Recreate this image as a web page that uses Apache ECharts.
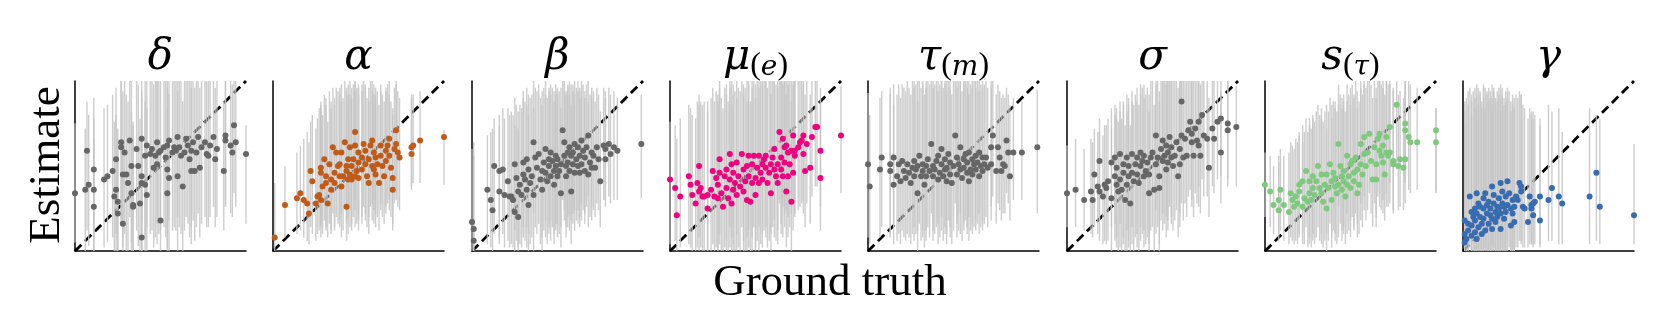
<!DOCTYPE html>
<html>
<head>
<meta charset="utf-8">
<script src="https://cdn.jsdelivr.net/npm/echarts@6/dist/echarts.min.js"></script>
<style>
    html, body { margin: 0; padding: 0; background: #fff; }
    #main { width: 1661px; height: 332px; }
</style>
</head>
<body>
<div id="main"></div>
<script>
// panel titles (rich text) and point colours
const titles = ['{g|δ}', '{g|α}', '{g|β}', '{g|μ}{p|(}{s|e}{p|)}', '{g|τ}{p|(}{s|m}{p|)}', '{g|σ}', '{g|s}{p|(}{s|τ}{p|)}', '{g|γ}'];
const colors = ['#666666', '#bf5b17', '#666666', '#f0027f', '#666666', '#666666', '#7fc97f', '#386cb0'];

// each point: [ground truth, estimate, interval low, interval high]
const delta = [
    [0,34,5,75],[7,59,12,88],[6,36,0,72],[8,39,3,80],[11,48,8,90],[11,36,0,78],[11,26,0,66],[17,42,2,84],
    [19,44,5,86],[22,47,8,92],[24,54,10,96],[24,36,0,80],[23,32,0,76],[25,29,0,72],[25,22,0,66],[27,64,18,100],
    [27,61,15,100],[29,58,10,100],[28,45,2,94],[28,16,0,60],[30,45,0,92],[31,40,0,88],[32,65,20,100],[33,50,5,100],
    [33,34,0,82],[34,26,0,74],[34,27,0,76],[36,60,12,100],[37,50,3,98],[39,66,18,100],[39,44,0,94],[39,40,0,90],
    [39,8,0,56],[38,28,0,78],[41,56,8,100],[41,39,0,88],[42,33,0,84],[42,62,14,100],[44,57,10,100],[45,60,12,100],
    [46,49,2,98],[47,56,8,100],[48,64,16,100],[48,51,4,100],[49,58,10,100],[50,18,0,66],[50,59,12,100],[52,61,14,100],
    [53,55,8,100],[54,62,14,100],[54,48,2,96],[54,34,0,84],[55,43,0,92],[55,65,18,100],[57,58,12,100],[58,61,14,100],
    [59,59,12,100],[60,44,0,94],[60,67,20,100],[61,61,14,100],[62,56,10,100],[63,38,0,88],[64,58,12,100],[65,66,20,100],
    [66,62,16,100],[67,54,8,100],[68,47,4,96],[68,59,14,100],[69,64,18,100],[70,47,6,96],[71,58,14,100],[72,67,22,100],
    [73,49,8,96],[74,61,16,100],[76,64,20,100],[77,57,14,100],[78,56,14,100],[79,62,20,100],[81,67,26,100],[82,54,14,96],
    [83,60,20,100],[87,47,12,88],[88,68,28,100],[88,65,26,100],[91,62,22,100],[93,74,34,100],[92,58,20,98],[94,64,26,100],
    [100,57,16,74]
];
const alpha = [
    [1,8,0,40],[7,27,8,50],[14,31,10,58],[16,34,12,62],[18,30,8,66],[20,28,6,70],[21,22,4,64],[22,47,14,76],
    [23,41,10,80],[25,28,6,72],[26,32,10,78],[27,33,12,84],[28,49,16,82],[28,30,8,86],[28,46,14,88],[29,38,10,80],
    [30,54,18,92],[31,44,12,86],[31,40,14,90],[32,28,8,76],[33,51,16,94],[34,36,10,84],[34,42,12,88],[35,61,22,96],
    [36,46,14,90],[36,40,12,86],[37,58,20,96],[38,50,16,94],[39,44,14,92],[39,51,18,96],[40,38,8,88],[40,58,22,98],
    [41,44,12,90],[42,64,26,100],[43,26,6,78],[43,47,16,94],[43,50,18,96],[44,42,10,92],[44,54,20,98],[45,61,24,100],
    [45,45,14,92],[46,50,16,96],[46,42,12,90],[47,54,20,98],[48,44,14,94],[48,70,30,100],[48,62,24,100],[49,47,16,96],
    [50,58,22,98],[50,43,12,92],[50,52,18,96],[52,48,16,94],[52,55,20,98],[53,63,26,100],[54,51,18,96],[54,59,22,98],
    [55,44,14,90],[56,54,20,96],[56,40,10,88],[57,62,26,100],[58,50,18,94],[58,65,28,100],[59,48,16,92],[59,58,24,98],
    [60,45,14,90],[60,55,22,96],[61,51,20,94],[62,40,12,86],[63,62,28,98],[63,56,24,94],[64,50,20,92],[65,44,16,88],
    [66,53,22,94],[66,59,26,96],[67,62,28,98],[68,66,30,100],[68,56,24,92],[69,49,20,88],[70,43,16,84],[70,36,12,80],
    [71,60,28,96],[72,71,34,100],[72,63,30,98],[73,58,26,94],[74,55,24,90],[81,57,36,92],[81,61,38,90],[82,62,40,92],
    [86,65,40,94],[100,67,39,71]
];
const beta = [
    [0,17,0,60],[1,13,0,64],[1,6,0,56],[9,36,4,68],[11,30,2,70],[12,24,0,72],[13,50,10,78],[16,47,8,80],
    [16,35,4,74],[18,48,10,84],[19,33,2,78],[21,41,6,84],[22,32,2,80],[23,32,4,82],[24,30,2,80],[25,51,12,90],
    [25,23,0,74],[26,43,6,86],[27,20,0,72],[27,35,2,82],[28,39,4,86],[29,33,2,84],[30,45,8,90],[30,52,14,94],
    [31,42,6,88],[32,54,14,96],[32,36,2,86],[33,27,0,80],[33,48,10,92],[34,40,4,90],[35,44,8,92],[36,64,22,100],
    [36,33,0,84],[37,55,14,96],[38,49,10,94],[39,57,16,98],[40,42,4,90],[41,47,8,94],[41,36,0,86],[42,52,12,96],
    [43,60,18,100],[43,46,8,92],[44,41,4,90],[45,54,14,96],[45,50,10,94],[46,58,18,98],[46,44,6,92],[47,53,14,96],
    [48,47,10,94],[48,39,4,88],[49,56,16,98],[49,50,12,94],[50,44,8,92],[50,54,16,96],[51,47,10,94],[52,51,14,96],
    [52,34,2,84],[53,71,30,100],[54,56,18,98],[54,64,24,100],[55,50,14,94],[55,44,8,92],[56,58,20,98],[56,52,14,96],
    [57,61,22,100],[57,47,12,92],[58,35,4,86],[58,56,18,98],[59,51,16,94],[59,58,22,98],[60,46,12,92],[60,63,24,100],
    [61,54,18,96],[62,50,16,94],[62,61,24,100],[63,46,14,90],[63,56,20,96],[64,65,28,100],[64,51,18,94],[65,59,24,98],
    [66,47,16,90],[66,55,22,94],[67,61,26,98],[68,45,14,88],[68,68,32,100],[69,52,20,92],[70,58,26,96],[70,49,18,90],
    [71,56,24,94],[72,49,20,88],[73,61,28,96],[74,54,24,92],[75,41,14,82],[77,62,30,96],[78,54,26,90],[78,60,30,94],
    [80,63,32,96],[81,57,28,92],[83,61,30,94],[85,59,30,90],[99,63,31,92]
];
const mu = [
    [0,42,4,76],[3,37,6,74],[4,21,0,66],[6,32,2,78],[11,44,4,86],[12,39,2,84],[13,33,0,80],[15,28,0,78],
    [16,40,2,88],[17,50,8,92],[17,35,0,86],[18,37,2,88],[19,32,0,86],[20,32,0,88],[22,25,0,82],[22,33,0,88],
    [24,36,0,90],[25,47,4,96],[26,32,0,88],[27,43,2,94],[28,39,0,92],[28,31,0,88],[29,46,4,96],[29,54,10,100],
    [30,34,0,90],[31,26,0,84],[32,44,2,96],[33,37,0,92],[33,48,6,98],[34,31,0,88],[35,57,14,100],[35,42,2,96],
    [36,28,0,86],[36,51,8,100],[37,36,0,92],[37,46,4,98],[38,40,0,94],[39,52,10,100],[39,33,0,90],[40,44,2,96],
    [41,38,0,94],[42,57,14,100],[43,35,0,92],[43,48,6,98],[44,41,0,96],[45,50,8,100],[45,30,0,88],[46,56,12,100],
    [46,44,2,98],[47,29,0,88],[48,40,0,96],[48,51,8,100],[49,56,14,100],[50,43,2,98],[50,33,0,90],[51,49,6,100],
    [52,56,14,100],[52,40,0,96],[53,46,4,100],[54,51,10,100],[54,42,2,98],[55,54,12,100],[56,49,8,100],[56,56,14,100],
    [57,40,2,96],[58,46,6,100],[59,51,10,100],[59,34,0,92],[60,55,14,100],[61,48,8,100],[61,60,18,100],[62,44,6,98],
    [63,51,12,100],[63,40,4,96],[64,70,28,100],[65,55,16,100],[65,48,10,100],[66,66,26,100],[66,44,8,98],[67,61,22,100],
    [67,52,14,100],[68,62,24,100],[68,35,2,92],[69,44,8,98],[69,58,20,100],[70,51,14,100],[71,59,22,100],[71,29,0,88],
    [72,68,30,100],[72,46,12,98],[73,59,22,100],[73,56,20,100],[75,61,24,100],[76,64,26,100],[77,65,28,100],[78,68,30,100],
    [78,57,22,98],[79,47,14,92],[80,63,28,100],[82,49,16,92],[83,67,32,100],[85,73,38,100],[86,73,38,100],[88,59,26,96],
    [88,43,12,88],[100,68,34,97]
];
const tau = [
    [0,51,8,93],[1,38,4,80],[7,48,8,90],[8,55,14,94],[13,51,10,96],[13,47,8,92],[15,55,14,98],[15,39,4,86],
    [17,44,6,92],[18,51,10,98],[19,41,4,90],[20,53,12,98],[21,47,8,96],[22,43,6,94],[23,51,10,100],[24,46,8,96],
    [25,40,4,92],[26,49,10,100],[27,53,14,100],[27,44,6,96],[28,48,10,98],[29,34,0,88],[29,50,12,100],[30,56,16,100],
    [31,44,6,96],[32,51,12,100],[32,47,8,98],[33,39,2,92],[34,50,12,100],[34,44,6,96],[35,54,14,100],[36,47,8,98],
    [37,63,22,100],[38,50,12,100],[38,44,6,96],[39,48,10,98],[40,53,14,100],[41,42,4,94],[41,56,16,100],[42,46,8,98],
    [43,51,12,100],[43,60,20,100],[44,44,6,96],[45,48,10,98],[45,54,14,100],[46,41,4,94],[46,49,10,100],[47,57,18,100],
    [48,45,8,96],[48,52,14,100],[49,40,4,92],[50,50,12,100],[51,68,28,100],[52,55,16,100],[52,45,8,96],[53,51,12,100],
    [54,61,22,100],[54,48,10,98],[55,43,6,94],[56,54,16,100],[56,49,12,98],[57,57,18,100],[58,46,10,96],[58,52,14,100],
    [59,41,6,92],[59,58,20,100],[60,48,12,98],[61,54,16,100],[61,45,10,96],[62,51,14,100],[63,56,18,100],[63,48,12,96],
    [64,52,16,100],[65,44,10,94],[65,58,22,100],[66,50,14,98],[67,55,18,100],[67,47,12,96],[68,51,16,98],[69,55,20,100],
    [70,49,14,96],[72,61,26,100],[72,51,18,96],[73,68,32,100],[75,47,16,92],[76,61,28,98],[77,55,24,94],[78,47,18,90],
    [79,51,22,92],[80,50,22,90],[81,65,34,96],[82,58,28,92],[83,44,18,86],[85,58,30,90],[90,58,30,88],[99,61,22,95]
];
const sigma = [
    [0,34,14,62],[5,36,14,66],[10,30,12,60],[14,35,10,66],[15,30,8,64],[16,45,14,72],[18,38,10,70],[19,53,18,78],
    [19,35,6,70],[21,32,4,68],[22,39,6,74],[23,37,4,74],[24,41,6,78],[26,31,0,72],[26,52,14,84],[28,55,16,86],
    [28,44,6,80],[29,39,2,78],[29,49,8,84],[30,35,0,76],[31,57,16,88],[31,42,2,82],[32,36,0,78],[33,46,4,86],
    [33,51,8,88],[34,30,0,74],[35,39,0,82],[35,55,12,92],[36,44,2,86],[36,50,6,90],[37,28,0,74],[38,57,14,94],
    [38,46,4,88],[39,41,0,86],[40,51,8,92],[41,55,10,96],[41,45,2,88],[42,40,0,86],[43,58,14,98],[43,50,6,92],
    [44,53,10,96],[45,44,2,90],[45,56,12,98],[46,47,4,92],[47,52,8,96],[48,34,0,82],[48,45,4,92],[49,55,12,100],
    [50,58,14,100],[51,36,0,86],[52,51,10,98],[52,68,24,100],[53,55,14,100],[54,44,4,94],[54,37,0,88],[55,60,18,100],
    [56,53,12,100],[56,65,22,100],[57,56,16,100],[58,48,8,98],[58,62,20,100],[59,52,12,100],[59,58,18,100],[60,67,26,100],
    [61,55,16,100],[61,61,20,100],[62,50,12,100],[63,56,18,100],[64,64,24,100],[65,44,8,96],[66,51,14,100],[66,60,22,100],
    [67,88,46,100],[67,68,28,100],[68,55,18,100],[69,66,28,100],[70,56,20,100],[71,71,32,100],[72,76,36,100],[73,64,26,100],
    [73,69,30,100],[74,56,20,100],[75,72,34,100],[76,65,28,100],[77,76,38,100],[77,62,26,100],[78,56,22,98],[79,80,42,100],
    [80,68,32,100],[82,66,32,100],[83,49,20,90],[85,72,38,100],[86,66,34,100],[88,76,42,100],[90,78,44,100],[90,58,28,94],
    [94,75,42,100],[94,71,38,100],[99,73,38,97]
];
const sTau = [
    [0,39,20,58],[3,35,14,56],[5,27,10,50],[8,30,10,56],[8,24,6,52],[9,36,12,60],[11,27,6,56],[14,23,4,58],
    [15,34,8,64],[16,30,6,62],[17,26,4,60],[18,32,6,66],[19,28,4,64],[20,39,10,70],[20,35,8,68],[22,26,4,64],
    [22,41,10,74],[23,31,4,70],[24,47,14,78],[25,29,2,70],[26,34,4,74],[26,41,8,78],[27,30,2,72],[28,44,10,80],
    [28,37,6,78],[29,33,4,76],[30,41,8,82],[31,50,14,86],[32,37,6,80],[33,45,10,84],[33,34,4,78],[34,29,2,76],
    [35,39,6,82],[36,25,0,72],[36,45,10,86],[37,37,6,82],[38,51,16,90],[39,41,8,86],[39,30,2,78],[40,46,12,88],
    [41,38,6,84],[41,43,10,88],[42,34,4,82],[43,63,26,98],[43,39,8,86],[44,50,16,92],[45,44,12,90],[45,36,6,84],
    [46,41,10,88],[46,47,14,92],[47,32,4,82],[48,39,10,88],[48,56,22,98],[49,44,12,92],[50,51,18,96],[50,37,8,86],
    [51,53,20,98],[52,46,14,92],[52,41,12,90],[53,55,22,100],[54,34,8,84],[54,48,16,94],[55,39,10,88],[56,63,28,100],
    [56,51,18,96],[57,45,14,92],[58,67,32,100],[58,57,24,98],[59,50,18,96],[60,58,24,100],[61,69,34,100],[62,53,22,98],
    [63,42,14,90],[64,61,28,100],[65,51,20,96],[65,42,14,90],[66,66,32,100],[67,59,26,100],[67,69,34,100],[68,56,24,98],
    [69,52,22,96],[69,62,30,100],[70,45,18,92],[71,58,26,100],[71,67,34,100],[72,56,26,98],[73,73,40,100],[73,58,28,98],
    [75,51,22,94],[75,53,24,96],[77,86,48,100],[78,50,24,92],[79,54,26,94],[81,49,24,90],[82,54,28,94],[82,75,42,100],
    [82,71,40,100],[84,67,36,100],[85,64,34,98],[89,64,36,96],[100,71,35,84],[100,64,34,84]
];
const gamma = [
    [1,18,0,82],[1,10,0,88],[1,5,0,74],[2,7,0,90],[3,12,0,86],[3,16,0,94],[4,32,2,96],[5,23,0,92],
    [5,9,0,80],[5,15,0,88],[6,20,0,94],[7,11,0,84],[7,25,0,96],[7,18,0,90],[8,34,2,98],[8,7,0,82],
    [8,22,0,92],[9,28,0,96],[9,14,0,86],[10,20,0,92],[10,26,0,94],[11,16,0,88],[11,10,0,84],[12,25,0,96],
    [12,31,0,98],[12,19,0,90],[13,34,2,96],[13,12,0,84],[14,22,0,92],[14,27,0,94],[15,16,0,88],[15,29,0,96],
    [16,21,0,90],[16,25,0,94],[17,38,4,98],[17,13,0,86],[17,19,0,90],[18,28,0,94],[18,33,2,96],[19,23,0,90],
    [19,17,0,88],[20,26,0,94],[20,20,0,88],[21,31,0,96],[21,25,0,92],[22,40,6,98],[22,13,0,82],[22,22,0,90],
    [23,28,0,92],[23,35,2,96],[24,19,0,86],[24,26,0,90],[25,32,0,94],[25,23,0,88],[26,41,6,96],[26,27,0,90],
    [27,34,2,94],[28,15,0,82],[28,25,0,88],[29,30,0,92],[29,22,0,86],[30,26,0,90],[30,17,0,84],[31,32,2,92],
    [32,30,2,90],[33,40,6,94],[34,35,4,92],[34,38,6,92],[35,26,2,86],[36,25,2,84],[38,17,2,78],[39,32,4,84],
    [40,27,4,82],[40,25,4,80],[41,21,2,78],[41,28,4,82],[42,29,4,80],[45,32,4,78],[45,18,2,74],[50,30,6,86],
    [52,37,6,82],[56,32,4,84],[58,28,4,70],[74,32,4,84],[78,46,6,80],[80,26,4,78],[100,21,4,63]
];

const panels = [delta, alpha, beta, mu, tau, sigma, sTau, gamma];

let chart = echarts.init(document.getElementById('main'));

const grids = [], xAxes = [], yAxes = [], series = [], titleList = [];
const serif = 'Liberation Serif';
const mathFont = 'DejaVu Serif';

panels.forEach((data, i) => {
    let left = Math.round(75 + i * 198.3);
    grids.push({ left: left, top: 81, width: 171, height: 170 });
    let axis = {
        gridIndex: i, type: 'value', min: 0, max: 100,
        axisLine: { onZero: false, lineStyle: { color: '#000', width: 1.5 } },
        axisTick: { show: false }, axisLabel: { show: false }, splitLine: { show: false }
    };
    xAxes.push(Object.assign({}, axis));
    yAxes.push(Object.assign({}, axis));

    titleList.push({
        text: titles[i],
        left: left + 85.5,
        top: 34,
        textAlign: 'center',
        padding: 0,
        textStyle: {
            fontWeight: 'normal',
            fontFamily: mathFont,
            fontStyle: 'italic',
            rich: {
                g: { fontFamily: mathFont, fontStyle: 'italic', fontWeight: 'normal', fontSize: 42, lineHeight: 48, color: '#000' },
                p: { fontFamily: serif, fontStyle: 'normal', fontWeight: 'normal', fontSize: 32, lineHeight: 32, verticalAlign: 'bottom', color: '#000' },
                s: { fontFamily: mathFont, fontStyle: 'italic', fontWeight: 'normal', fontSize: 28, lineHeight: 32, verticalAlign: 'bottom', color: '#000' }
            }
        }
    });

    // dashed identity line
    series.push({
        type: 'line', xAxisIndex: i, yAxisIndex: i, data: [[0, 0], [100, 100]],
        symbol: 'none', silent: true, z: 1,
        lineStyle: { color: '#000', width: 2.8, type: [9, 5] }
    });
    // intervals
    series.push({
        type: 'custom', xAxisIndex: i, yAxisIndex: i, z: 2, silent: true,
        data: data.map(d => [d[0], d[2], d[3]]),
        renderItem: function (params, api) {
            let a = api.coord([api.value(0), api.value(1)]);
            let b = api.coord([api.value(0), api.value(2)]);
            return {
                type: 'line',
                shape: { x1: a[0], y1: a[1], x2: b[0], y2: b[1] },
                style: { stroke: '#c4c4c4', lineWidth: 1.4, opacity: 0.85 }
            };
        }
    });
    // point estimates
    series.push({
        type: 'scatter', xAxisIndex: i, yAxisIndex: i, z: 3,
        data: data.map(d => [d[0], d[1]]),
        symbolSize: 6,
        itemStyle: { color: colors[i], opacity: 1 }
    });
});

chart.setOption({
    animation: false,
    backgroundColor: '#fff',
    title: titleList,
    grid: grids,
    xAxis: xAxes,
    yAxis: yAxes,
    series: series,
    graphic: [
        {
            type: 'text', x: 47, y: 165, rotation: Math.PI / 2,
            style: { text: 'Estimate', font: '45px "Liberation Serif"', fill: '#000', align: 'center', verticalAlign: 'middle' }
        },
        {
            type: 'text', x: 830, y: 283,
            style: { text: 'Ground truth', font: '45px "Liberation Serif"', fill: '#000', align: 'center', verticalAlign: 'middle' }
        }
    ]
});
</script>
</body>
</html>
